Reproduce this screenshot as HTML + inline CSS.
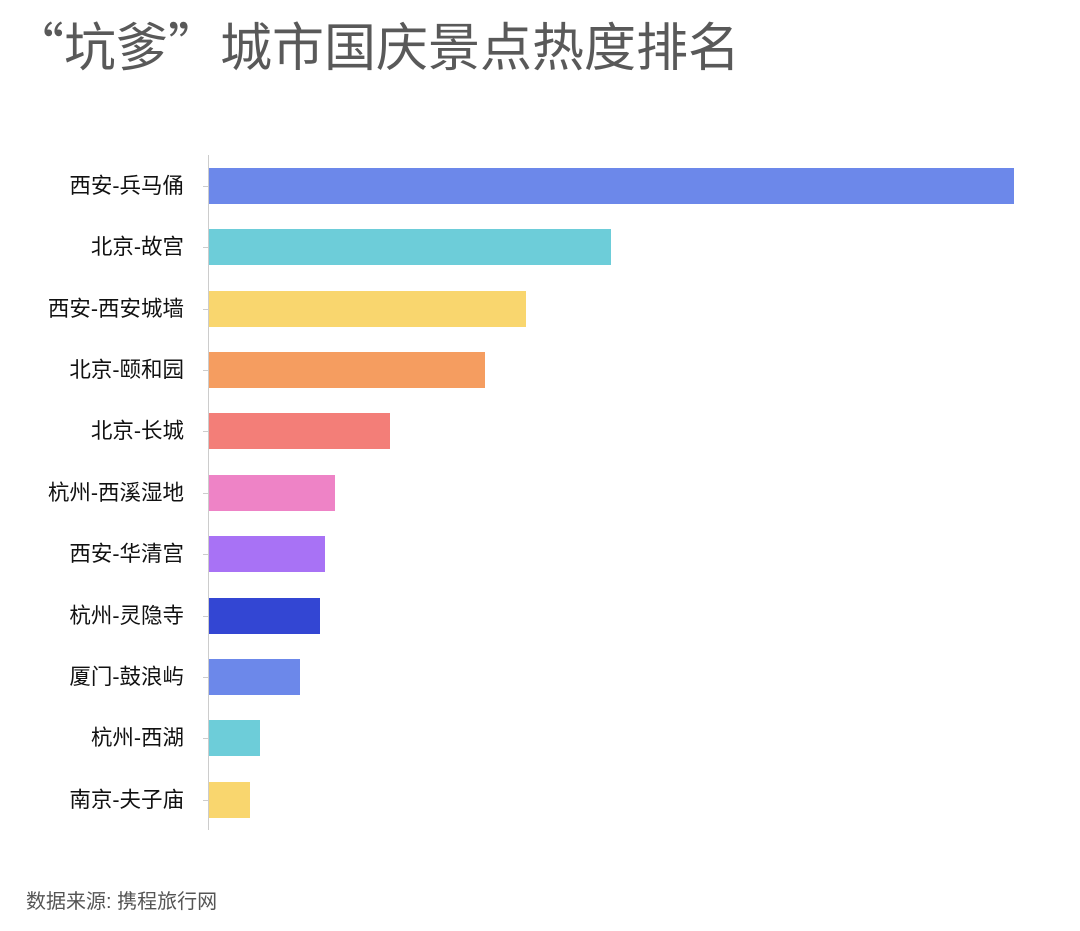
<!DOCTYPE html>
<html><head><meta charset="utf-8"><style>
body{margin:0;background:#fff;width:1080px;height:931px;position:relative;overflow:hidden;font-family:"Liberation Sans","Noto Sans CJK SC",sans-serif;}
.title{position:absolute;left:12px;top:12px;font-size:52px;color:#595959;font-family:"Noto Sans CJK SC",sans-serif;font-weight:400;white-space:nowrap;line-height:64px;}
.axis{position:absolute;left:208px;top:155px;width:1px;height:675px;background:#ccc;}
.bar{position:absolute;left:209px;height:36px;}
.lab{position:absolute;right:896px;font-size:21.5px;color:#111;white-space:nowrap;line-height:36px;}
.tick{position:absolute;left:203px;width:6px;height:1px;background:#ccc;}
.src{position:absolute;left:26px;top:889px;font-size:20px;color:#555;line-height:26px;}
</style></head><body>
<div class="title">“坑爹”城市国庆景点热度排名</div>
<div class="axis"></div>
<div class="bar" style="top:168px;width:805px;background:#6c88ea"></div><div class="lab" style="top:168px">西安-兵马俑</div><div class="tick" style="top:186px"></div>
<div class="bar" style="top:229px;width:402px;background:#6dcdd9"></div><div class="lab" style="top:229px">北京-故宫</div><div class="tick" style="top:247px"></div>
<div class="bar" style="top:291px;width:317px;background:#f9d66e"></div><div class="lab" style="top:291px">西安-西安城墙</div><div class="tick" style="top:309px"></div>
<div class="bar" style="top:352px;width:276px;background:#f59d60"></div><div class="lab" style="top:352px">北京-颐和园</div><div class="tick" style="top:370px"></div>
<div class="bar" style="top:413px;width:181px;background:#f37e78"></div><div class="lab" style="top:413px">北京-长城</div><div class="tick" style="top:431px"></div>
<div class="bar" style="top:475px;width:126px;background:#ee83c6"></div><div class="lab" style="top:475px">杭州-西溪湿地</div><div class="tick" style="top:493px"></div>
<div class="bar" style="top:536px;width:116px;background:#a872f5"></div><div class="lab" style="top:536px">西安-华清宫</div><div class="tick" style="top:554px"></div>
<div class="bar" style="top:598px;width:111px;background:#3346d3"></div><div class="lab" style="top:598px">杭州-灵隐寺</div><div class="tick" style="top:616px"></div>
<div class="bar" style="top:659px;width:91px;background:#6c88ea"></div><div class="lab" style="top:659px">厦门-鼓浪屿</div><div class="tick" style="top:677px"></div>
<div class="bar" style="top:720px;width:51px;background:#6dcdd9"></div><div class="lab" style="top:720px">杭州-西湖</div><div class="tick" style="top:738px"></div>
<div class="bar" style="top:782px;width:41px;background:#f9d66e"></div><div class="lab" style="top:782px">南京-夫子庙</div><div class="tick" style="top:800px"></div>
<div class="src">数据来源: 携程旅行网</div>
</body></html>
